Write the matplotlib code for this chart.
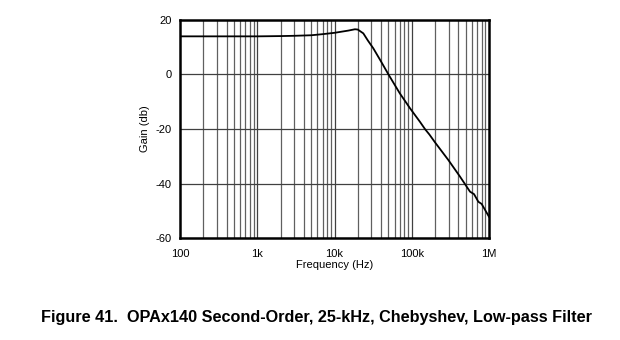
import matplotlib
matplotlib.use("Agg")
import matplotlib.pyplot as plt
from matplotlib.ticker import FixedLocator, NullFormatter, NullLocator

plt.rcParams['font.family'] = ['Liberation Sans', 'DejaVu Sans']

freq_hz = [100, 1e3, 2e3, 3e3, 5e3, 7e3, 10e3, 15e3, 18.4e3, 20e3, 23.6e3, 27e3,
           31.8e3, 40e3, 50e3, 70e3, 95e3, 128e3, 149e3, 169e3, 200e3, 298e3,
           422e3, 568e3, 640e3, 728e3, 803e3, 1e6]
gain_db = [14.0, 14.0, 14.1, 14.2, 14.4, 14.8, 15.3, 16.1, 16.6, 16.5, 15.1, 12.5,
           9.6, 4.8, 0.0, -6.9, -12.4, -17.4, -20.1, -22.0, -24.9, -31.4,
           -37.5, -43.0, -43.9, -46.7, -47.5, -52.2]

x_ticks = [100, 1e3, 1e4, 1e5, 1e6]
x_tick_labels = ["100", "1k", "10k", "100k", "1M"]
y_ticks = [20, 0, -20, -40, -60]
y_tick_labels = ["20", "0", "-20", "-40", "-60"]

fig = plt.figure(figsize=(6.2, 3.4), dpi=100)
ax = fig.add_axes([180/620, 1-238/340, (489-180)/620, (238-20)/340])

ax.set_xscale('log')
ax.set_xlim(100, 1e6)
ax.set_ylim(-60, 20)

minor = [m * 10**d for d in range(2, 6) for m in range(2, 10)]
for f in minor:
    ax.axvline(f, color='#606060', lw=0.9, zorder=1)
for f in x_ticks[1:-1]:
    ax.axvline(f, color='#404040', lw=0.9, zorder=1)
for y in y_ticks[1:-1]:
    ax.axhline(y, color='#404040', lw=0.9, zorder=1)

ax.plot(freq_hz, gain_db, color='black', lw=1.3, zorder=3)

ax.xaxis.set_major_locator(FixedLocator(x_ticks))
ax.set_xticklabels(x_tick_labels)
ax.xaxis.set_minor_locator(NullLocator())
ax.xaxis.set_minor_formatter(NullFormatter())
ax.set_yticks(y_ticks)
ax.set_yticklabels(y_tick_labels)
ax.tick_params(axis='x', length=0, labelsize=8, pad=8)
ax.tick_params(axis='y', length=0, labelsize=8, pad=6)

for s in ax.spines.values():
    s.set_linewidth(1.8)
    s.set_color('black')

ax.set_xlabel("Frequency (Hz)", fontsize=8, labelpad=1)
ax.set_ylabel("Gain (db)", fontsize=8, labelpad=4)

fig.text(316.5/620, 1-317.5/340, "Figure 41.  OPAx140 Second-Order, 25-kHz, Chebyshev, Low-pass Filter",
         ha='center', va='center', fontsize=11.7, fontweight='bold')

fig.savefig("out.png", dpi=100, facecolor='white')
